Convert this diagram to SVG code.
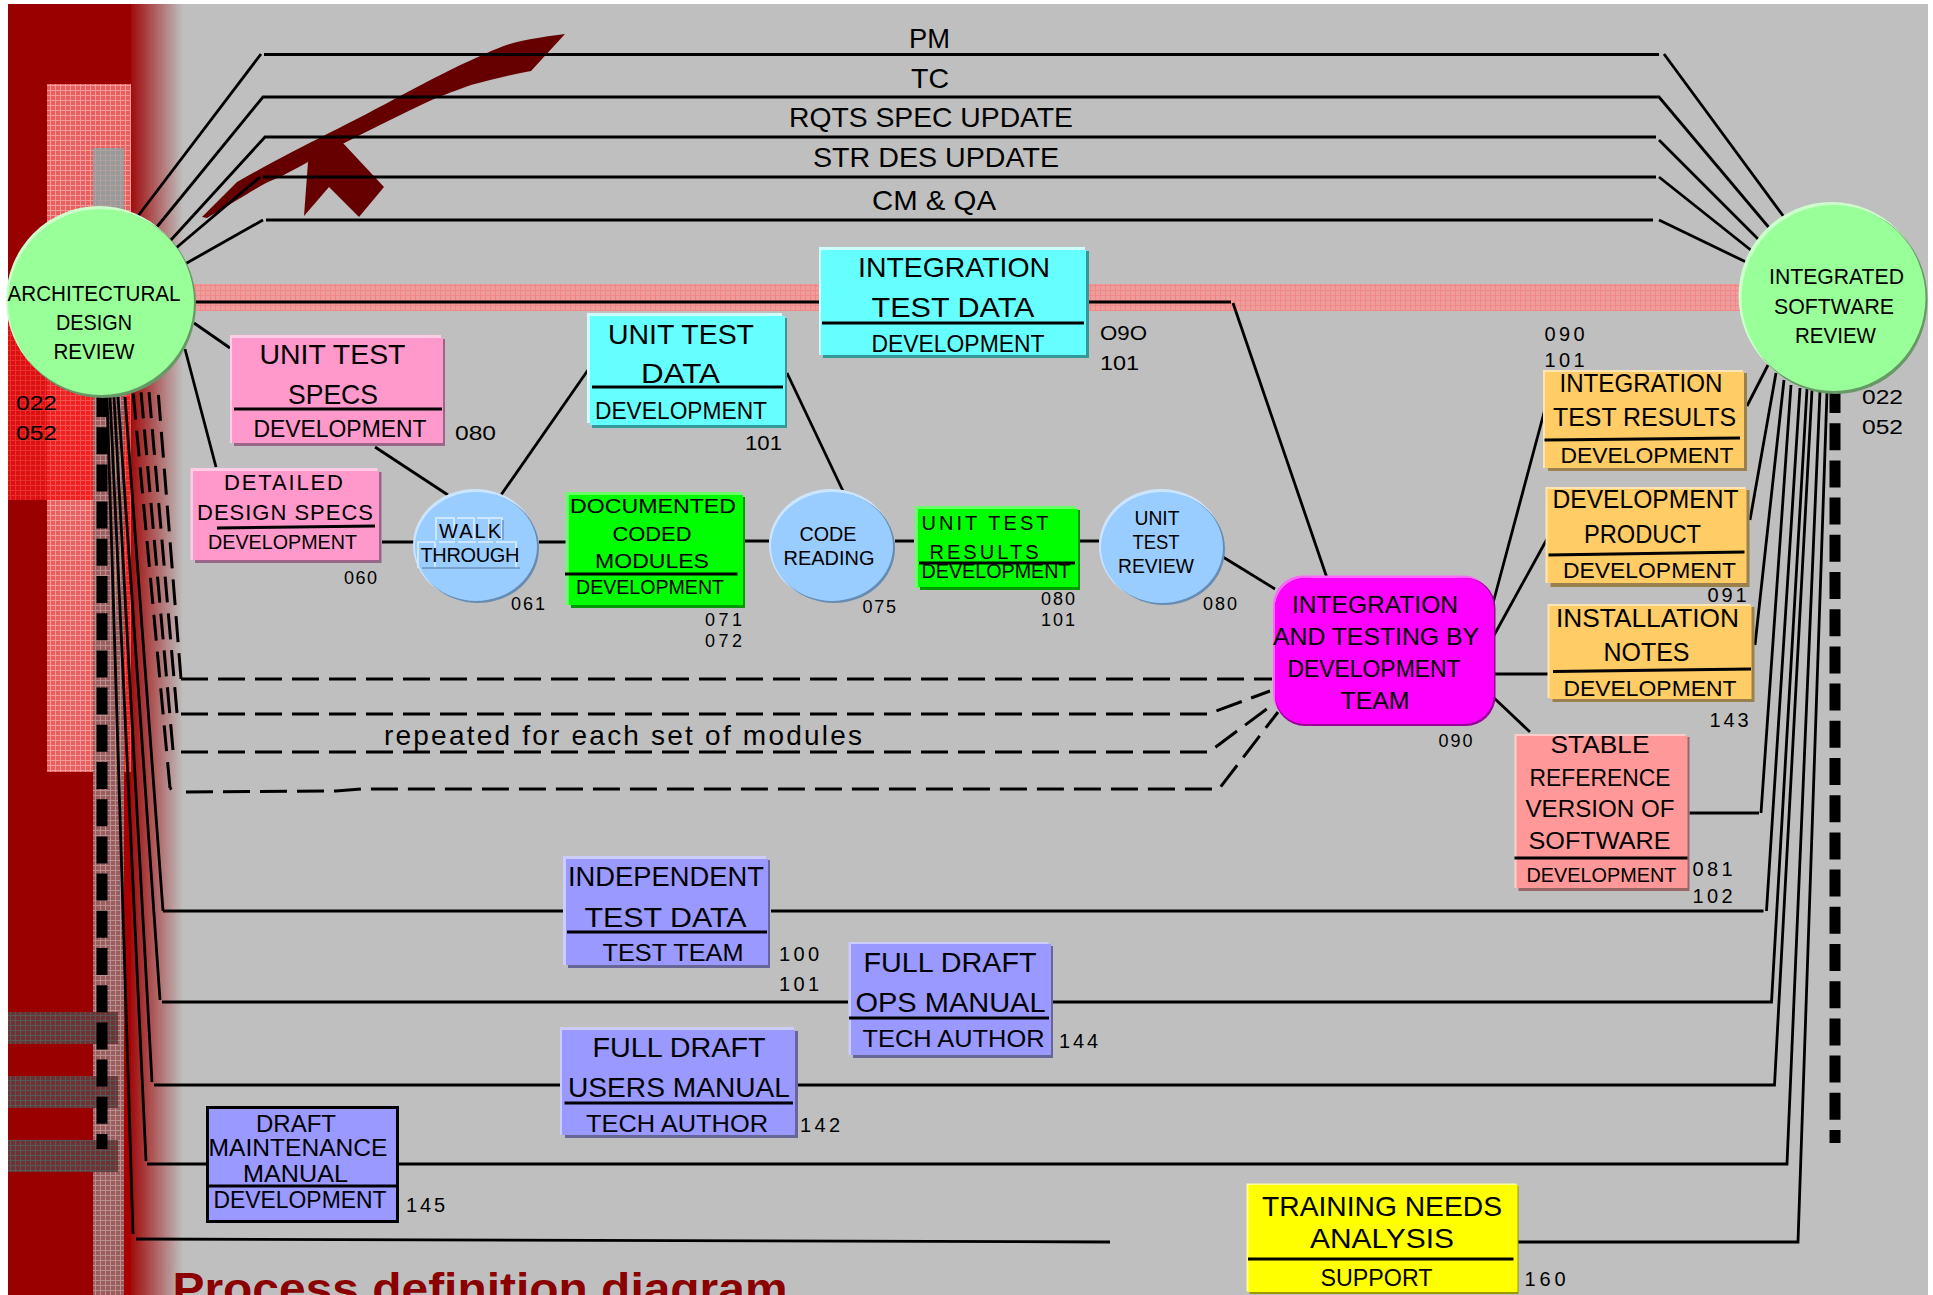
<svg xmlns="http://www.w3.org/2000/svg" width="1933" height="1295" viewBox="0 0 1933 1295">
<style>
text{font-family:"Liberation Sans",Arial,sans-serif;fill:#000}
.m{text-anchor:middle}
.f28{font-size:28px}.f26{font-size:26px}.f24{font-size:24px}.f22{font-size:22px}.f20{font-size:20px}.f18{font-size:18px}
.c{fill:none;stroke:#000;stroke-width:2.8}
.d{fill:none;stroke:#000;stroke-width:3;stroke-dasharray:27 10}
.ds{fill:none;stroke:#000;stroke-width:3;stroke-dasharray:26 11}
.thick{fill:none;stroke:#000;stroke-width:11;stroke-dasharray:27 10.2}
.rule{stroke:#000;stroke-width:3;fill:none}
.pk1{fill:#ffcce6}.pk2{fill:#99668a}.pk3{fill:#ff99cc}
.cy1{fill:#ccffff}.cy2{fill:#339999}.cy3{fill:#66ffff}
.gr1{fill:#66ff66}.gr2{fill:#009900}.gr3{fill:#00ff00}
.or1{fill:#ffe5b3}.or2{fill:#99804d}.or3{fill:#ffcc66}
.rd1{fill:#ffcccc}.rd2{fill:#996666}.rd3{fill:#ff9999}
.bl1{fill:#ccccff}.bl2{fill:#666699}.bl3{fill:#9999ff}
.ye1{fill:#ffff99}.ye2{fill:#999900}.ye3{fill:#ffff00}
.sk1{fill:#cce5ff}.sk2{fill:#668cb3}.sk3{fill:#99ccff}
.lm1{fill:#ccffcc}.lm2{fill:#669966}.lm3{fill:#99ff99}
.mg1{fill:#ff66ff}.mg2{fill:#990099}.mg3{fill:#ff00ff}
</style>
<defs>
<linearGradient id="fade" x1="0" x2="1" y1="0" y2="0">
<stop offset="0" stop-color="#a00c0c"/><stop offset="1" stop-color="#bfbfbf"/>
</linearGradient>
<pattern id="gridPink" width="5" height="5" patternUnits="userSpaceOnUse">
<rect width="5" height="5" fill="#e85f5f"/><path d="M0 .5H5M.5 0V5" stroke="#f59a9a" stroke-width="1"/>
</pattern>
<pattern id="gridRed" width="5" height="5" patternUnits="userSpaceOnUse">
<rect width="5" height="5" fill="#ee2020"/><path d="M0 .5H5M.5 0V5" stroke="#f65050" stroke-width="1"/>
</pattern>
<pattern id="gridDeep" width="5" height="5" patternUnits="userSpaceOnUse">
<rect width="5" height="5" fill="#dd1010"/><path d="M0 .5H5M.5 0V5" stroke="#e83030" stroke-width="1"/>
</pattern>
<pattern id="gridGrey" width="5" height="5" patternUnits="userSpaceOnUse">
<rect width="5" height="5" fill="#999"/><path d="M0 .5H5M.5 0V5" stroke="#b0a0a0" stroke-width="1"/>
</pattern>
<pattern id="gridMauve" width="5" height="5" patternUnits="userSpaceOnUse">
<rect width="5" height="5" fill="#9a5c5c"/><path d="M0 .5H5M.5 0V5" stroke="#b99090" stroke-width="1"/>
</pattern>
<pattern id="gridDark" width="5" height="5" patternUnits="userSpaceOnUse">
<rect width="5" height="5" fill="#6e3232"/><path d="M0 .5H5M.5 0V5" stroke="#575757" stroke-width="1"/>
</pattern>
<pattern id="gridBand" width="5" height="5" patternUnits="userSpaceOnUse">
<rect width="5" height="5" fill="#ee9c9c"/><path d="M0 .5H5M.5 0V5" stroke="#f08888" stroke-width="1"/>
</pattern>
</defs>

<!-- page and side band -->
<rect width="1933" height="1295" fill="#fff"/>
<rect x="8" y="4" width="1920" height="1291" fill="#bfbfbf"/>
<rect x="8" y="4" width="123" height="1291" fill="#990000"/>
<rect x="131" y="4" width="52" height="1291" fill="url(#fade)"/>
<rect x="47" y="84" width="84" height="688" fill="url(#gridPink)"/>
<rect x="8" y="300" width="39" height="200" fill="url(#gridDeep)"/>
<rect x="47" y="300" width="46" height="200" fill="url(#gridRed)"/>
<rect x="124" y="300" width="7" height="472" fill="url(#gridRed)"/>
<rect x="124" y="772" width="7" height="523" fill="#a80000"/>
<rect x="93" y="148" width="31" height="202" fill="url(#gridGrey)"/>
<rect x="93" y="350" width="31" height="945" fill="url(#gridMauve)"/>
<rect x="8" y="1012" width="110" height="32" fill="url(#gridDark)"/>
<rect x="8" y="1076" width="110" height="32" fill="url(#gridDark)"/>
<rect x="8" y="1140" width="110" height="32" fill="url(#gridDark)"/>
<rect x="190" y="284" width="1570" height="27" fill="url(#gridBand)"/>

<!-- swoosh and arrow -->
<path d="M202 217L237 182C270 163 300 148 329 133C355 120 380 107 402 95C430 80 455 67 478 57C495 49 505 45 517 42C535 38 550 36 565 34L531 71C510 75 490 80 471 85C452 92 437 97 421 105C400 115 380 125 360 135C340 145 325 153 308 162C293 170 283 176 268 182C255 189 247 194 237 200L207 218Z" fill="#660000"/>
<path d="M333 140L342 142L384 187L359 217L329 187L304 216L308 162Z" fill="#660000"/>

<g id="connectors">
<path class="thick" d="M102 390V1149"/>
<path class="thick" d="M1835 386V1143"/>
<!-- top lanes -->
<path class="c" d="M138 216L261 54M264 54.500H1659M1664 54L1784 217"/>
<path class="c" d="M156 228L263 97H1659L1771 230"/>
<path class="c" d="M170 241L265 137H1656M1659 140L1760 241"/>
<path class="c" d="M176 248L260 177M263 177H1656M1659 177L1752 251"/>
<path class="c" d="M185 264L263 220M266 220H1653M1659 220L1746 262"/>
<!-- design review flows -->
<path class="c" d="M190 302H1231M1233 303L1327 578"/>
<path class="c" d="M194 323L230 348"/>
<path class="c" d="M185 349L216 467"/>
<path class="c" d="M375 447L448 495"/>
<path class="c" d="M501 495L588 370"/>
<path class="c" d="M382 542H414M539 542H566"/>
<path class="c" d="M745 541H769M895 541H914M1080 541H1099"/>
<path class="c" d="M787 373L843 491"/>
<path class="c" d="M1223 557L1275 589"/>
<path class="c" d="M1492 607L1545 409"/>
<path class="c" d="M1492 639L1547 539"/>
<path class="c" d="M1492 674H1550"/>
<path class="c" d="M1493 697L1530 732"/>
<!-- repeated module flows -->
<path class="ds" d="M181 679L158 390"/>
<path class="ds" d="M177 713L149 392"/>
<path class="ds" d="M173 750L141 392"/>
<path class="ds" d="M170 788L133 391"/>
<path class="c" d="M170 788L174 792" stroke-dasharray="2 4"/>
<path class="d" d="M181 679H1272"/>
<path class="d" d="M181 714H1208L1270 691"/>
<path class="d" d="M181 752H1209L1272 705"/>
<path class="d" d="M186 792L336 791L362 789H1219L1278 712"/>
<!-- long lower lanes -->
<path class="c" d="M125 397L163 911M163 911H563M771 911H1763.500M1766.500 911L1800 388"/>
<path class="c" d="M118 397L160 1000M162 1002H848M1053 1002H1771.500L1807 389"/>
<path class="c" d="M114 397L152 1082M154 1085H560M798 1085H1774.500L1812 390"/>
<path class="c" d="M110 397L146 1161M147 1164H206M399 1164H1787L1820 391"/>
<path class="c" d="M107 397L133 1234M136 1239L1110 1242"/>
<path class="c" d="M1518 1242H1798L1827 392"/>
<!-- right fan -->
<path class="c" d="M1747 406L1768 365"/>
<path class="c" d="M1750 520L1776 373"/>
<path class="c" d="M1755 645L1784 380"/>
<path class="c" d="M1689.500 813H1759M1761 813L1791 385"/>
</g>

<g id="architectural-design-review">
<ellipse class="lm1" cx="99" cy="300" rx="93" ry="94"/><ellipse class="lm2" cx="103" cy="304" rx="93" ry="94"/><ellipse class="lm3" cx="101" cy="302" rx="93" ry="93"/>
<text class="f22 m" x="94" y="301" textLength="173" lengthAdjust="spacingAndGlyphs">ARCHITECTURAL</text>
<text class="f22 m" x="94" y="330" textLength="76" lengthAdjust="spacingAndGlyphs">DESIGN</text>
<text class="f22 m" x="94" y="359" textLength="81" lengthAdjust="spacingAndGlyphs">REVIEW</text>
<text class="f20" x="16" y="410" textLength="41" lengthAdjust="spacingAndGlyphs">022</text>
<text class="f20" x="16" y="440" textLength="41" lengthAdjust="spacingAndGlyphs">052</text>
</g>

<g id="integrated-software-review">
<ellipse class="lm1" cx="1831.500" cy="296" rx="93" ry="94"/><ellipse class="lm2" cx="1835.500" cy="300" rx="92" ry="94"/><ellipse class="lm3" cx="1833.500" cy="298" rx="92" ry="93"/>
<text class="f22 m" x="1836.500" y="284" textLength="135" lengthAdjust="spacingAndGlyphs">INTEGRATED</text>
<text class="f22 m" x="1834" y="314" textLength="120" lengthAdjust="spacingAndGlyphs">SOFTWARE</text>
<text class="f22 m" x="1835.500" y="343" textLength="81" lengthAdjust="spacingAndGlyphs">REVIEW</text>
<text class="f20" x="1862" y="404" textLength="41" lengthAdjust="spacingAndGlyphs">022</text>
<text class="f20" x="1862" y="434" textLength="41" lengthAdjust="spacingAndGlyphs">052</text>
</g>

<g id="lane-labels">
<text class="f28" x="909" y="48" textLength="41" lengthAdjust="spacingAndGlyphs">PM</text>
<text class="f28" x="911" y="88" textLength="38" lengthAdjust="spacingAndGlyphs">TC</text>
<text class="f28" x="789" y="127" textLength="284" lengthAdjust="spacingAndGlyphs">RQTS SPEC UPDATE</text>
<text class="f28" x="813" y="167" textLength="246" lengthAdjust="spacingAndGlyphs">STR DES UPDATE</text>
<text class="f28" x="872" y="210" textLength="124" lengthAdjust="spacingAndGlyphs">CM &amp; QA</text>
</g>

<g id="integration-test-data">
<rect class="cy1" x="819" y="247" width="266" height="108"/><rect class="cy2" x="823" y="251" width="266" height="107"/><rect class="cy3" x="821" y="250" width="265" height="105"/>
<path class="rule" d="M822 323H1084"/>
<text class="f28 m" x="954" y="277" textLength="192" lengthAdjust="spacingAndGlyphs">INTEGRATION</text>
<text class="f28 m" x="953" y="317" textLength="163" lengthAdjust="spacingAndGlyphs">TEST DATA</text>
<text class="f24 m" x="958" y="352" textLength="173" lengthAdjust="spacingAndGlyphs">DEVELOPMENT</text>
<text class="f20" x="1100" y="340" textLength="47" lengthAdjust="spacingAndGlyphs">O9O</text>
<text class="f20" x="1100" y="370" textLength="39" lengthAdjust="spacingAndGlyphs">101</text>
</g>

<g id="unit-test-data">
<rect class="cy1" x="587" y="313" width="195" height="110"/><rect class="cy2" x="592" y="318" width="195" height="110"/><rect class="cy3" x="590" y="316" width="195" height="109"/>
<path class="rule" d="M592 387H783"/>
<text class="f28" x="608" y="344" textLength="146" lengthAdjust="spacingAndGlyphs">UNIT TEST</text>
<text class="f28" x="641" y="383" textLength="79" lengthAdjust="spacingAndGlyphs">DATA</text>
<text class="f24" x="595" y="419" textLength="172" lengthAdjust="spacingAndGlyphs">DEVELOPMENT</text>
<text class="f20" x="745" y="450" textLength="37" lengthAdjust="spacingAndGlyphs">101</text>
</g>

<g id="unit-test-specs">
<rect class="pk1" x="230" y="335" width="211" height="108"/><rect class="pk2" x="234" y="339" width="211" height="107"/><rect class="pk3" x="232" y="338" width="211" height="105"/>
<path class="rule" d="M234 409H442"/>
<text class="f28 m" x="332.500" y="364" textLength="146" lengthAdjust="spacingAndGlyphs">UNIT TEST</text>
<text class="f28 m" x="333" y="404" textLength="90" lengthAdjust="spacingAndGlyphs">SPECS</text>
<text class="f24 m" x="340" y="437" textLength="173" lengthAdjust="spacingAndGlyphs">DEVELOPMENT</text>
<text class="f20" x="455" y="440" textLength="41" lengthAdjust="spacingAndGlyphs">080</text>
</g>

<g id="detailed-design-specs">
<rect class="pk1" x="190.500" y="468" width="187" height="92"/><rect class="pk2" x="195" y="472" width="186.500" height="91"/><rect class="pk3" x="193" y="471" width="186" height="89"/>
<path class="rule" d="M217 528L375 526"/>
<text class="f22 m" x="283.500" y="490" textLength="119" lengthAdjust="spacing">DETAILED</text>
<text class="f22 m" x="285" y="520" textLength="176" lengthAdjust="spacing">DESIGN SPECS</text>
<text class="f20 m" x="282.500" y="549" textLength="149" lengthAdjust="spacingAndGlyphs">DEVELOPMENT</text>
<text class="f18" x="344" y="584" textLength="33" lengthAdjust="spacing">060</text>
</g>

<g id="walk-through">
<ellipse class="sk1" cx="475" cy="545" rx="62" ry="56"/><ellipse class="sk2" cx="478" cy="548" rx="61" ry="55"/><ellipse class="sk3" cx="476" cy="546.500" rx="61" ry="54.500"/>
<path d="M436 540V518H454V540M457 518H474V540M477 518H489V540M489 518H502V540M418 568V542H435V568M439 542H455M458 542H476M478 542H493M496 542H516V568" fill="none" stroke="#cfe6ff" stroke-width="2"/>
<path d="M422 568H520M503 520V540" fill="none" stroke="#6f93bf" stroke-width="1.500"/>
<text class="f20 m" x="470" y="538" textLength="62" lengthAdjust="spacing">WALK</text>
<text class="f20 m" x="470" y="562" textLength="99" lengthAdjust="spacing">THROUGH</text>
<text class="f18" x="511" y="610" textLength="34" lengthAdjust="spacing">061</text>
</g>

<g id="documented-coded-modules">
<rect class="gr1" x="565.500" y="492" width="176" height="113"/><rect class="gr2" x="571" y="497" width="174" height="111"/><rect class="gr3" x="569" y="495" width="174" height="110"/>
<path class="rule" d="M565 574H737.500"/>
<text class="f20 m" x="653" y="513" textLength="166" lengthAdjust="spacingAndGlyphs">DOCUMENTED</text>
<text class="f20 m" x="652" y="541" textLength="79" lengthAdjust="spacingAndGlyphs">CODED</text>
<text class="f20 m" x="652" y="568" textLength="114" lengthAdjust="spacingAndGlyphs">MODULES</text>
<text class="f20 m" x="650" y="594" textLength="148" lengthAdjust="spacingAndGlyphs">DEVELOPMENT</text>
<text class="f18" x="705" y="626" textLength="37" lengthAdjust="spacing">071</text>
<text class="f18" x="705" y="647" textLength="37" lengthAdjust="spacing">072</text>
</g>

<g id="code-reading">
<ellipse class="sk1" cx="831" cy="545" rx="62" ry="56"/><ellipse class="sk2" cx="834" cy="548" rx="61" ry="55"/><ellipse class="sk3" cx="832" cy="546.500" rx="61" ry="54.500"/>
<text class="f20 m" x="828" y="541" textLength="57" lengthAdjust="spacingAndGlyphs">CODE</text>
<text class="f20 m" x="829" y="565" textLength="91" lengthAdjust="spacingAndGlyphs">READING</text>
<text class="f18" x="862.500" y="613" textLength="33.500" lengthAdjust="spacing">075</text>
</g>

<g id="unit-test-results">
<rect class="gr1" x="915" y="506" width="161" height="82"/><rect class="gr2" x="920" y="510" width="160" height="80"/><rect class="gr3" x="918" y="509" width="160" height="78"/>
<path class="rule" d="M919 563H1075"/>
<text class="f20 m" x="985" y="530" textLength="127" lengthAdjust="spacing">UNIT TEST</text>
<text class="f20 m" x="984" y="559" textLength="109" lengthAdjust="spacing">RESULTS</text>
<text class="f20 m" x="996" y="578" textLength="149" lengthAdjust="spacingAndGlyphs">DEVELOPMENT</text>
<text class="f18" x="1041" y="605" textLength="34" lengthAdjust="spacing">080</text>
<text class="f18" x="1041" y="626" textLength="34" lengthAdjust="spacing">101</text>
</g>

<g id="unit-test-review">
<ellipse class="sk1" cx="1161" cy="546" rx="62" ry="57"/><ellipse class="sk2" cx="1164" cy="549" rx="61" ry="56"/><ellipse class="sk3" cx="1162" cy="547.500" rx="61" ry="55.500"/>
<text class="f20 m" x="1157" y="525" textLength="45" lengthAdjust="spacingAndGlyphs">UNIT</text>
<text class="f20 m" x="1156" y="549" textLength="47" lengthAdjust="spacingAndGlyphs">TEST</text>
<text class="f20 m" x="1156" y="573" textLength="76" lengthAdjust="spacingAndGlyphs">REVIEW</text>
<text class="f18" x="1203" y="610" textLength="34" lengthAdjust="spacing">080</text>
</g>

<g id="integration-and-testing">
<rect class="mg1" x="1273" y="575.500" width="220" height="148" rx="30"/><rect class="mg2" x="1275" y="578" width="220.500" height="148" rx="30"/><rect class="mg3" x="1275" y="578" width="219" height="146" rx="30"/>
<text class="f24 m" x="1375" y="613" textLength="166" lengthAdjust="spacingAndGlyphs">INTEGRATION</text>
<text class="f24 m" x="1376" y="645" textLength="206" lengthAdjust="spacingAndGlyphs">AND TESTING BY</text>
<text class="f24 m" x="1374" y="677" textLength="173" lengthAdjust="spacingAndGlyphs">DEVELOPMENT</text>
<text class="f24 m" x="1375" y="709" textLength="69" lengthAdjust="spacingAndGlyphs">TEAM</text>
<text class="f18" x="1438.500" y="747" textLength="34" lengthAdjust="spacing">090</text>
</g>

<g id="integration-test-results" transform="translate(-2 0)">
<rect class="or1" x="1545" y="370" width="200" height="98"/><rect class="or2" x="1550" y="373" width="199" height="98"/><rect class="or3" x="1547" y="372" width="199" height="96"/>
<path class="rule" d="M1546.500 440L1742 438"/>
<text class="f26 m" x="1643" y="392" textLength="163" lengthAdjust="spacingAndGlyphs">INTEGRATION</text>
<text class="f26 m" x="1646.500" y="426" textLength="183" lengthAdjust="spacingAndGlyphs">TEST RESULTS</text>
<text class="f22 m" x="1649" y="463" textLength="173" lengthAdjust="spacingAndGlyphs">DEVELOPMENT</text>
<text class="f20" x="1546.500" y="341" textLength="40" lengthAdjust="spacing">090</text>
<text class="f20" x="1546.500" y="367" textLength="40" lengthAdjust="spacing">101</text>
</g>

<g id="development-product" transform="translate(-2.500 0)">
<rect class="or1" x="1548" y="487" width="200" height="96"/><rect class="or2" x="1553" y="490" width="199" height="97"/><rect class="or3" x="1550" y="489" width="199" height="94"/>
<path class="rule" d="M1551 555L1747 552"/>
<text class="f26 m" x="1648" y="508" textLength="186" lengthAdjust="spacingAndGlyphs">DEVELOPMENT</text>
<text class="f26 m" x="1645" y="543" textLength="117" lengthAdjust="spacingAndGlyphs">PRODUCT</text>
<text class="f22 m" x="1652" y="578" textLength="173" lengthAdjust="spacingAndGlyphs">DEVELOPMENT</text>
<text class="f20" x="1710" y="602" textLength="39" lengthAdjust="spacing">091</text>
</g>

<g id="installation-notes" transform="translate(-2.500 0)">
<rect class="or1" x="1550" y="604" width="203" height="94"/><rect class="or2" x="1555" y="607" width="202" height="95"/><rect class="or3" x="1552" y="606" width="202" height="93"/>
<path class="rule" d="M1555.500 671.500L1753.500 669"/>
<text class="f26 m" x="1650" y="627" textLength="183" lengthAdjust="spacingAndGlyphs">INSTALLATION</text>
<text class="f26 m" x="1649" y="661" textLength="86" lengthAdjust="spacingAndGlyphs">NOTES</text>
<text class="f22 m" x="1652.500" y="696" textLength="173" lengthAdjust="spacingAndGlyphs">DEVELOPMENT</text>
<text class="f20" x="1712" y="727" textLength="39" lengthAdjust="spacing">143</text>
</g>

<g id="stable-reference-version" transform="translate(-2.500 0)">
<rect class="rd1" x="1517" y="734" width="171" height="154"/><rect class="rd2" x="1521" y="737" width="171" height="154"/><rect class="rd3" x="1519" y="736" width="171" height="152"/>
<path class="rule" d="M1517 858H1690"/>
<text class="f24 m" x="1602.500" y="753" textLength="99" lengthAdjust="spacingAndGlyphs">STABLE</text>
<text class="f24 m" x="1602.500" y="785.500" textLength="141" lengthAdjust="spacingAndGlyphs">REFERENCE</text>
<text class="f24 m" x="1602.500" y="817" textLength="149" lengthAdjust="spacingAndGlyphs">VERSION OF</text>
<text class="f24 m" x="1602" y="849" textLength="142" lengthAdjust="spacingAndGlyphs">SOFTWARE</text>
<text class="f20 m" x="1604" y="881.500" textLength="150" lengthAdjust="spacingAndGlyphs">DEVELOPMENT</text>
<text class="f20" x="1695" y="876" textLength="40" lengthAdjust="spacing">081</text>
<text class="f20" x="1695" y="903" textLength="40" lengthAdjust="spacing">102</text>
</g>

<g id="independent-test-data">
<rect class="bl1" x="563" y="856" width="203" height="109"/><rect class="bl2" x="568" y="860" width="202" height="108"/><rect class="bl3" x="566" y="859" width="202" height="106"/>
<path class="rule" d="M567 932H767"/>
<text class="f28 m" x="666" y="886" textLength="196" lengthAdjust="spacingAndGlyphs">INDEPENDENT</text>
<text class="f28 m" x="665.500" y="927" textLength="162" lengthAdjust="spacingAndGlyphs">TEST DATA</text>
<text class="f24 m" x="673" y="961" textLength="141" lengthAdjust="spacingAndGlyphs">TEST TEAM</text>
<text class="f20" x="779" y="961" textLength="40" lengthAdjust="spacing">100</text>
<text class="f20" x="779" y="991" textLength="40" lengthAdjust="spacing">101</text>
</g>

<g id="full-draft-ops-manual">
<rect class="bl1" x="848.500" y="942" width="200" height="113"/><rect class="bl2" x="853" y="946" width="200" height="112"/><rect class="bl3" x="851" y="944" width="200" height="111"/>
<path class="rule" d="M849 1018H1049"/>
<text class="f28 m" x="950" y="972" textLength="173" lengthAdjust="spacingAndGlyphs">FULL DRAFT</text>
<text class="f28 m" x="950.500" y="1012" textLength="190" lengthAdjust="spacingAndGlyphs">OPS MANUAL</text>
<text class="f24 m" x="953.500" y="1047" textLength="182" lengthAdjust="spacingAndGlyphs">TECH AUTHOR</text>
<text class="f20" x="1059" y="1048" textLength="39" lengthAdjust="spacing">144</text>
</g>

<g id="full-draft-users-manual">
<rect class="bl1" x="560" y="1027" width="234" height="108"/><rect class="bl2" x="565" y="1031" width="233" height="107"/><rect class="bl3" x="562" y="1030" width="233" height="105"/>
<path class="rule" d="M564.500 1103H793"/>
<text class="f28 m" x="679" y="1057" textLength="173" lengthAdjust="spacingAndGlyphs">FULL DRAFT</text>
<text class="f28 m" x="679" y="1097" textLength="222" lengthAdjust="spacingAndGlyphs">USERS MANUAL</text>
<text class="f24 m" x="677" y="1132" textLength="182" lengthAdjust="spacingAndGlyphs">TECH AUTHOR</text>
<text class="f20" x="800" y="1132" textLength="40" lengthAdjust="spacing">142</text>
</g>

<g id="draft-maintenance-manual">
<rect class="bl3" x="207.500" y="1107.500" width="190" height="114" stroke="#000" stroke-width="3"/>
<path class="rule" d="M207 1186H398"/>
<text class="f24 m" x="296" y="1132" textLength="80" lengthAdjust="spacingAndGlyphs">DRAFT</text>
<text class="f24 m" x="298" y="1156" textLength="179" lengthAdjust="spacingAndGlyphs">MAINTENANCE</text>
<text class="f24 m" x="295.500" y="1182" textLength="105" lengthAdjust="spacingAndGlyphs">MANUAL</text>
<text class="f24 m" x="300" y="1208" textLength="173" lengthAdjust="spacingAndGlyphs">DEVELOPMENT</text>
<text class="f20" x="406" y="1212" textLength="39" lengthAdjust="spacing">145</text>
</g>

<g id="training-needs-analysis" transform="translate(-1.500 -1)">
<rect class="ye1" x="1248" y="1184.500" width="270" height="108"/><rect class="ye2" x="1251" y="1187" width="269" height="108"/><rect class="ye3" x="1250" y="1186" width="269" height="107"/>
<path class="rule" d="M1249.500 1260H1515"/>
<text class="f28 m" x="1383.500" y="1217" textLength="240" lengthAdjust="spacingAndGlyphs">TRAINING NEEDS</text>
<text class="f28 m" x="1383.500" y="1249" textLength="144" lengthAdjust="spacingAndGlyphs">ANALYSIS</text>
<text class="f24 m" x="1378" y="1287" textLength="112" lengthAdjust="spacingAndGlyphs">SUPPORT</text>
<text class="f20" x="1526" y="1287" textLength="41" lengthAdjust="spacing">160</text>
</g>

<text class="f28" x="384" y="745" textLength="478" lengthAdjust="spacing">repeated for each set of modules</text>
<text x="172.500" y="1304" font-size="44" font-weight="700" style="fill:#8b0000" textLength="615" lengthAdjust="spacingAndGlyphs">Process definition diagram</text>
</svg>
